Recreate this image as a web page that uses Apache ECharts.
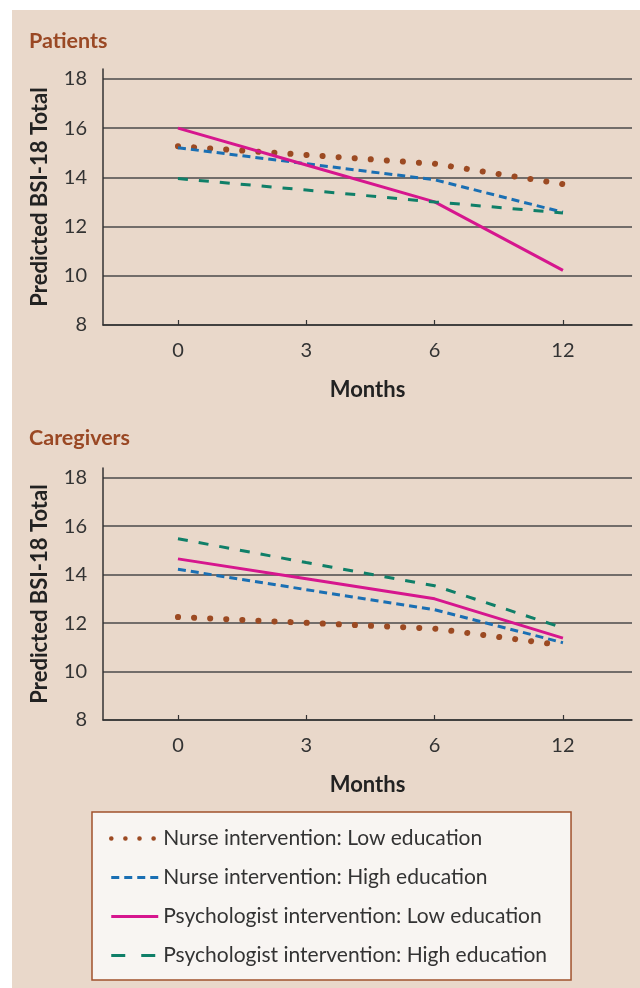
<!DOCTYPE html>
<html>
<head>
<meta charset="utf-8">
<script src="https://cdn.jsdelivr.net/npm/echarts@6/dist/echarts.min.js"></script>
<style>
  html, body { margin: 0; padding: 0; background: #fff; }
  #panel { position: absolute; left: 12px; top: 10px; width: 628px; height: 978px; background: #e9d8ca; }
  #chart { position: absolute; left: 0; top: 0; width: 640px; height: 988px; }
</style>
</head>
<body>
<div id="panel"></div>
<div id="chart"></div>
<script>
// months shown as equally spaced categories
var months = ['0', '3', '6', '12']
var yTicks = [8, 10, 12, 14, 16, 18]

var seriesNames = [
  'Nurse intervention: Low education',
  'Nurse intervention: High education',
  'Psychologist intervention: Low education',
  'Psychologist intervention: High education'
]

// Patients
var patNurseLow = [15.26, 14.91, 14.55, 13.72]
var patNurseHigh = [15.2, 14.55, 13.9, 12.58]
var patPsychLow = [16.0, 14.5, 13.0, 10.22]
var patPsychHigh = [13.95, 13.48, 13.0, 12.55]

// Caregivers
var carNurseLow = [12.25, 12.01, 11.77, 11.08]
var carNurseHigh = [14.22, 13.38, 12.55, 11.19]
var carPsychLow = [14.65, 13.83, 13.0, 11.38]
var carPsychHigh = [15.48, 14.5, 13.54, 11.8]

var font = 'Lato'
var textColor = '#333'
var gridColor = '#4a4a4a'

// line looks for the four groups
var looks = [
  { color: '#9c4a22', width: 6, type: [0.1, 16], cap: 'round', legendType: [0.1, 14], legendWidth: 4.5 },
  { color: '#1a6fb3', width: 3, type: [8, 5], cap: 'butt', legendType: [8, 5], legendWidth: 3 },
  { color: '#d6168e', width: 3, type: 'solid', cap: 'butt', legendType: 'solid', legendWidth: 3 },
  { color: '#0f7f68', width: 3, type: [10, 11], cap: 'butt', legendType: [14, 16], legendWidth: 3 }
]

function pts(values) {
  return values.map(function (v, i) { return [i, v] })
}

function makeSeries(idx, sets) {
  return sets.map(function (values, k) {
    var lk = looks[k]
    return {
      name: seriesNames[k],
      type: 'line',
      xAxisIndex: idx,
      yAxisIndex: idx,
      symbol: 'none',
      silent: true,
      color: lk.color,
      lineStyle: { color: lk.color, width: lk.width, type: lk.type, cap: lk.cap },
      data: pts(values)
    }
  })
}

function makeX(idx) {
  return {
    gridIndex: idx,
    type: 'value',
    min: -0.584,
    max: 3.538,
    name: 'Months',
    nameLocation: 'middle',
    nameGap: 54,
    nameTextStyle: { fontFamily: font, fontWeight: 'bold', fontSize: 22, color: '#222' },
    axisLine: { onZero: false, lineStyle: { color: '#333', width: 1.5 } },
    axisTick: { show: true, inside: true, length: 5, customValues: [0, 1, 2, 3], lineStyle: { color: '#333', width: 1.2 } },
    axisLabel: {
      customValues: [0, 1, 2, 3],
      margin: 16,
      fontFamily: font,
      fontSize: 20,
      color: textColor,
      formatter: function (v) { return months[Math.round(v)] }
    },
    splitLine: { show: false }
  }
}

function makeY(idx) {
  return {
    gridIndex: idx,
    type: 'value',
    min: yTicks[0],
    max: 18.4,
    interval: 2,
    name: 'Predicted BSI-18 Total',
    nameLocation: 'middle',
    nameGap: 52,
    nameTextStyle: { fontFamily: font, fontWeight: 'bold', fontSize: 22, color: '#222', padding: [0, 0, 0, 0] },
    axisLine: { show: true, onZero: false, lineStyle: { color: '#333', width: 1.5 } },
    axisTick: { show: false },
    axisLabel: {
      margin: 16,
      fontFamily: font,
      fontSize: 20,
      color: textColor,
      showMaxLabel: false,
      formatter: function (v) { return yTicks.indexOf(v) >= 0 ? String(v) : '' }
    },
    splitLine: { show: true, showMaxLine: false, lineStyle: { color: gridColor, width: 1.5 } }
  }
}

var legendData = seriesNames.map(function (name, k) {
  var lk = looks[k]
  return {
    name: name,
    itemStyle: { opacity: 0 },
    lineStyle: { color: lk.color, width: lk.legendWidth, type: lk.legendType, cap: lk.cap }
  }
})

var titleStyle = { fontFamily: font, fontWeight: 'bold', fontSize: 21.5, color: '#9a4824' }

var chart = echarts.init(document.getElementById('chart'))
chart.setOption({
  backgroundColor: 'transparent',
  animation: false,
  title: [
    { text: 'Patients', left: 29, top: 30, padding: 0, textStyle: titleStyle },
    { text: 'Caregivers', left: 29, top: 427, padding: 0, textStyle: titleStyle }
  ],
  grid: [
    { left: 103, right: 8, top: 69, height: 256 },
    { left: 103, right: 8, top: 468, height: 252 }
  ],
  xAxis: [makeX(0), makeX(1)],
  yAxis: [makeY(0), makeY(1)],
  legend: {
    data: legendData,
    orient: 'vertical',
    left: 92,
    top: 812,
    padding: [16, 24, 14, 17],
    itemGap: 18,
    itemWidth: 47,
    itemHeight: 14,
    backgroundColor: '#f8f5f2',
    borderColor: '#a0522d',
    borderWidth: 1.5,
    selectedMode: false,
    itemStyle: { opacity: 0 },
    textStyle: { fontFamily: font, fontSize: 21, color: textColor }
  },
  series: makeSeries(0, [patNurseLow, patNurseHigh, patPsychLow, patPsychHigh])
    .concat(makeSeries(1, [carNurseLow, carNurseHigh, carPsychLow, carPsychHigh]))
})
</script>
</body>
</html>
